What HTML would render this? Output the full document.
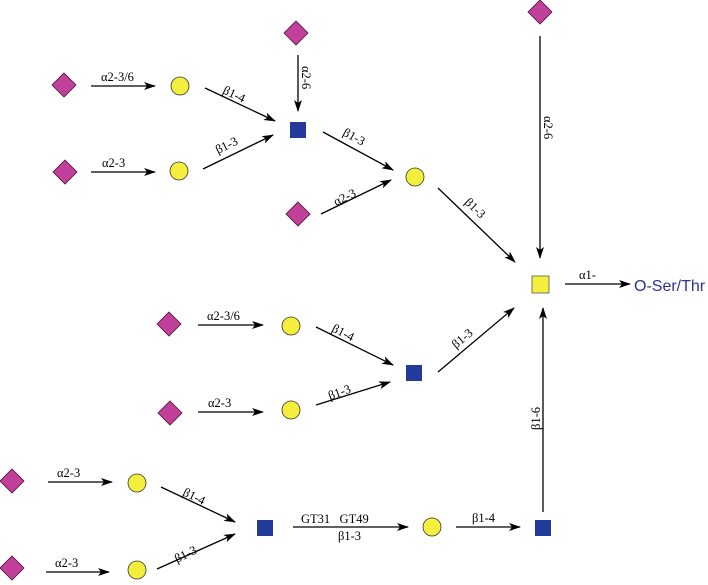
<!DOCTYPE html>
<html><head><style>html,body{margin:0;padding:0;background:#fff}svg{display:block}</style></head><body>
<svg width="708" height="585" viewBox="0 0 708 585" xmlns="http://www.w3.org/2000/svg" font-family="Liberation Serif, serif" font-size="12.5">
<defs>
<marker id="a" markerWidth="12" markerHeight="8" refX="11" refY="4" orient="auto" markerUnits="userSpaceOnUse"><path d="M0,0 L12,4 L0,8 L3,4 Z" fill="#000"/></marker>
<g id="d"><path d="M0,-12 L12,0 L0,12 L-12,0 Z" fill="#c0409a" stroke="#4a1040" stroke-width="0.8"/></g>
<g id="c"><circle r="9" fill="#f4ee3c" stroke="#333" stroke-width="0.8"/></g>
<g id="s"><rect x="-8" y="-8" width="16" height="16" fill="#233a9a"/></g>
</defs>
<g stroke="#000" stroke-width="1.3" fill="none" marker-end="url(#a)">
<line x1="91" y1="86" x2="155" y2="86"/>
<line x1="91" y1="172" x2="155" y2="172"/>
<line x1="205" y1="88" x2="275" y2="121"/>
<line x1="203" y1="169" x2="273" y2="135"/>
<line x1="298" y1="55" x2="298" y2="111"/>
<line x1="323" y1="132" x2="393" y2="170"/>
<line x1="321" y1="214" x2="391" y2="180"/>
<line x1="438" y1="188" x2="515" y2="262"/>
<line x1="540" y1="36" x2="540" y2="258"/>
<line x1="565" y1="284" x2="630" y2="284"/>
<line x1="198" y1="325" x2="263" y2="325"/>
<line x1="198" y1="412" x2="263" y2="412"/>
<line x1="316" y1="327" x2="393" y2="365"/>
<line x1="316" y1="405" x2="390" y2="382"/>
<line x1="438" y1="372" x2="514" y2="308"/>
<line x1="543" y1="512" x2="543" y2="308"/>
<line x1="48" y1="482" x2="112" y2="482"/>
<line x1="46" y1="572" x2="109" y2="572"/>
<line x1="161" y1="487" x2="235" y2="522"/>
<line x1="157" y1="569" x2="235" y2="534"/>
<line x1="293" y1="527" x2="408" y2="527"/>
<line x1="456" y1="527" x2="520" y2="527"/>
</g>
<use href="#d" x="64" y="85"/><use href="#d" x="65" y="172"/><use href="#d" x="296" y="33"/>
<use href="#d" x="298" y="214"/><use href="#d" x="540" y="12"/><use href="#d" x="169" y="324"/>
<use href="#d" x="170" y="413"/><use href="#d" x="12" y="481"/><use href="#d" x="12" y="568"/>
<use href="#c" x="180" y="86"/><use href="#c" x="179" y="171"/><use href="#c" x="415" y="177"/>
<use href="#c" x="291" y="326"/><use href="#c" x="291" y="410"/><use href="#c" x="137" y="483"/>
<use href="#c" x="137" y="570"/><use href="#c" x="432" y="527"/>
<use href="#s" x="298" y="130"/><use href="#s" x="414" y="373"/><use href="#s" x="265" y="528"/><use href="#s" x="543" y="528"/>
<rect x="532" y="276" width="17" height="17" fill="#f4ee3c" stroke="#555" stroke-width="0.8"/>
<g fill="#000">
<text x="101" y="81">α2-3/6</text>
<text x="102" y="167">α2-3</text>
<text transform="translate(222,93) rotate(25)">β1-4</text>
<text transform="translate(218,154) rotate(-26)">β1-3</text>
<text transform="translate(302,66) rotate(90)">α2-6</text>
<text transform="translate(342,135) rotate(28)">β1-3</text>
<text transform="translate(336,206) rotate(-26)">α2-3</text>
<text transform="translate(464,203) rotate(44)">β1-3</text>
<text transform="translate(544,116) rotate(90)">α2-6</text>
<text x="579" y="279">α1-</text>
<text x="207" y="320">α2-3/6</text>
<text x="208" y="407">α2-3</text>
<text transform="translate(331,331) rotate(27)">β1-4</text>
<text transform="translate(330,400) rotate(-20)">β1-3</text>
<text transform="translate(456,349) rotate(-40)">β1-3</text>
<text transform="translate(540,430) rotate(-90)">β1-6</text>
<text x="57" y="477">α2-3</text>
<text x="55" y="567">α2-3</text>
<text transform="translate(182,495) rotate(26)">β1-4</text>
<text transform="translate(177,563) rotate(-26)">β1-3</text>
<text x="301" y="523" xml:space="preserve">GT31   GT49</text>
<text x="338" y="540">β1-3</text>
<text x="472" y="522">β1-4</text>
</g>
<text x="634" y="291" font-family="Liberation Sans, sans-serif" font-size="16" fill="#2a3590">O-Ser/Thr</text>
</svg>
</body></html>
